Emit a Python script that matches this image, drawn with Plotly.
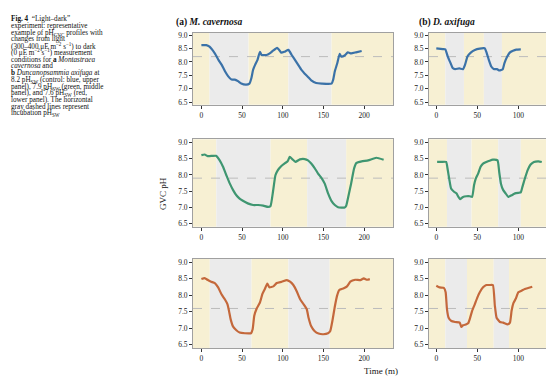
import plotly.graph_objects as go

# ---------------- data ----------------
# Panel a (M. cavernosa), control 8.2
a82_t = [0, 6, 10, 16.5, 21, 25, 29, 33, 37, 41, 45, 49, 55, 59, 61.5, 63.5, 66, 69, 72, 74, 80, 84, 88, 93, 95, 98, 102, 107,
         111, 115, 119, 123, 127, 131, 135, 141, 148, 160, 162, 164, 167, 170, 172, 176, 180, 184, 190, 197]
a82_ph = [8.63, 8.63, 8.57, 8.32, 8.08, 7.89, 7.65, 7.46, 7.34, 7.34, 7.28, 7.19, 7.15, 7.19, 7.40, 7.70, 7.89, 8.08, 8.38, 8.26,
          8.26, 8.32, 8.42, 8.53, 8.47, 8.35, 8.38, 8.45, 8.26, 8.08, 7.89, 7.70, 7.56, 7.44, 7.31, 7.21, 7.19, 7.19, 7.34, 7.65,
          7.95, 8.30, 8.20, 8.24, 8.36, 8.32, 8.36, 8.41]
a82_switch = [10, 58, 107, 160]

# Panel a, 7.9
a79_t = [0, 4, 8, 14, 18, 22.5, 26.6, 30.7, 35, 39, 43, 47, 51, 57, 63.5, 69.7, 76, 82, 85, 88, 91, 94, 98, 102, 106, 108.6,
         112, 115.6, 121, 127, 131, 135, 139, 143.4, 147.5, 151.6, 155.7, 160, 164, 168, 176, 178, 181, 184, 187.7, 190.6, 197,
         205, 215, 224]
a79_ph = [8.61, 8.63, 8.58, 8.59, 8.59, 8.45, 8.25, 7.99, 7.73, 7.53, 7.37, 7.27, 7.20, 7.12, 7.07, 7.07, 7.05, 7.01, 7.04,
          7.48, 7.99, 8.15, 8.27, 8.35, 8.42, 8.56, 8.48, 8.40, 8.48, 8.49, 8.45, 8.35, 8.22, 8.04, 7.91, 7.73, 7.43, 7.19,
          7.07, 7.00, 6.99, 7.05, 7.38, 7.73, 8.20, 8.37, 8.42, 8.45, 8.53, 8.47]
a79_switch = [18.4, 85, 130, 178]

# Panel a, 7.6
a76_t = [0, 4, 8, 12, 16.5, 20.6, 24.7, 28.8, 32, 34, 36, 39, 43, 47, 53.5, 61, 63, 65, 68, 72, 75, 78, 81, 83.5, 88.5, 92.6,
         98.8, 105, 109, 113, 117, 121.4, 125.5, 129.6, 131.7, 135, 139, 144, 150, 155.6, 158.4, 161, 163.8, 166.7, 169.5,
         175, 179, 183, 189, 195.5, 199.6, 203.7, 207]
a76_ph = [8.49, 8.52, 8.46, 8.41, 8.37, 8.24, 8.03, 7.88, 7.73, 7.52, 7.27, 7.05, 6.94, 6.87, 6.85, 6.85, 6.97, 7.38, 7.60,
          7.78, 8.04, 8.19, 8.35, 8.24, 8.27, 8.37, 8.41, 8.46, 8.41, 8.31, 8.13, 7.88, 7.73, 7.57, 7.32, 7.06, 6.92, 6.84,
          6.82, 6.85, 6.92, 7.22, 7.63, 7.98, 8.16, 8.21, 8.27, 8.41, 8.47, 8.46, 8.51, 8.47, 8.49]
a76_switch = [10.3, 61.7, 107, 157.6]

# Panel b (D. axifuga), control 8.2
b82_t = [0, 8, 11, 14, 17.5, 20, 23, 28, 32.5, 35, 38, 42, 47, 53, 59, 61, 64, 67, 70, 74, 77, 81, 83, 86.5, 89.5, 93.5,
         97.5, 103]
b82_ph = [8.51, 8.48, 8.47, 8.20, 7.95, 7.77, 7.73, 7.76, 7.73, 7.89, 8.20, 8.35, 8.45, 8.50, 8.51, 8.38, 8.08, 7.83, 7.74,
          7.73, 7.68, 7.73, 7.95, 8.20, 8.35, 8.42, 8.46, 8.47]
b82_switch = [11, 33.7, 58, 80]

# Panel b, 7.9
b79_t = [1, 6, 12, 14, 16, 18, 21.6, 24.5, 27, 29, 32.6, 36.7, 40.8, 43.7, 46, 48, 51, 54, 57, 61, 65, 69, 74.7, 76.7, 78.8,
         81.6, 84.5, 87.8, 91.8, 96, 100.8, 103, 105, 108, 111.4, 115, 119, 124.5, 128.6]
b79_ph = [8.40, 8.40, 8.40, 8.15, 7.84, 7.58, 7.48, 7.43, 7.32, 7.25, 7.32, 7.34, 7.34, 7.32, 7.68, 7.88, 8.04, 8.25, 8.35,
          8.40, 8.44, 8.47, 8.45, 8.09, 7.73, 7.53, 7.43, 7.32, 7.37, 7.43, 7.45, 7.46, 7.63, 7.89, 8.15, 8.32, 8.40, 8.42,
          8.40]
b79_switch = [13, 43, 75.5, 103]

# Panel b, 7.6
b76_t = [0, 4, 9.4, 11.4, 13, 15, 18.4, 23, 28.6, 30.6, 32.6, 36.7, 38.8, 40.8, 43.7, 47, 50, 53, 57, 61, 65, 69, 71.4, 73.5,
         77.6, 81.6, 87, 89.8, 91.8, 94, 97, 100, 104, 108, 112, 117]
b76_ph = [8.29, 8.24, 8.22, 8.09, 7.58, 7.32, 7.22, 7.19, 7.17, 7.04, 7.09, 7.12, 7.15, 7.28, 7.53, 7.73, 7.93, 8.09, 8.24,
          8.31, 8.31, 8.31, 7.68, 7.32, 7.19, 7.17, 7.12, 7.17, 7.53, 7.76, 7.90, 8.09, 8.14, 8.19, 8.22, 8.26]
b76_switch = [11, 37.4, 70, 88.6]

incubation_ph = [8.2, 7.9, 7.6]
y_ticks = [6.5, 7.0, 7.5, 8.0, 8.5, 9.0]
a_ticks = [0, 50, 100, 150, 200]
b_ticks = [0, 50, 100]

caption_lines = [
    "<b>Fig. 4</b>  “Light–dark”",
    "experiment: representative",
    "example of pH<sub>GVC</sub> profiles with",
    "changes from light",
    "(300–400 μE m<sup>−2</sup> s<sup>−1</sup>) to dark",
    "(0 μE m<sup>−2</sup> s<sup>−1</sup>) measurement",
    "conditions for <b>a</b> <i>Montastraea</i>",
    "<i>cavernosa</i> and",
    "<b>b</b> <i>Duncanopsammia axifuga</i> at",
    "8.2 pH<sub>SW</sub> (control: blue, upper",
    "panel), 7.9 pH<sub>SW</sub> (green, middle",
    "panel), and 7.6 pH<sub>SW</sub> (red,",
    "lower panel). The horizontal",
    "gray dashed lines represent",
    "incubation pH<sub>SW</sub>",
]

# ---------------- styling ----------------
W, H = 554, 379
FONT = "Liberation Serif, Times New Roman, serif"
LIGHT = "#f7f0d3"
DARK = "#ebebeb"
colors = ["#3b72a8", "#3f9671", "#c4683b"]

panels = [
    [(a82_t, a82_ph, a82_switch), (b82_t, b82_ph, b82_switch)],
    [(a79_t, a79_ph, a79_switch), (b79_t, b79_ph, b79_switch)],
    [(a76_t, a76_ph, a76_switch), (b76_t, b76_ph, b76_switch)],
]

# pixel layout
col_px = [(185, 385), (421, 540.5)]
col_range = [(-10.3, 235.5), (-8.9, 136.8)]
row_px = [(22.8, 95.7), (130.7, 219.0), (251.6, 341.7)]
y_range = (6.4, 9.1)

fig = go.Figure()
shapes = []
annotations = []

idx = 0
for r in range(3):
    for c in range(2):
        idx += 1
        t, ph, sw = panels[r][c]
        xa = "x" if idx == 1 else f"x{idx}"
        ya = "y" if idx == 1 else f"y{idx}"
        xkey = "xaxis" if idx == 1 else f"xaxis{idx}"
        ykey = "yaxis" if idx == 1 else f"yaxis{idx}"
        x0p, x1p = col_px[c]
        y0p, y1p = row_px[r]
        xr = col_range[c]
        fig.update_layout({
            xkey: dict(domain=[x0p / W, x1p / W], range=list(xr), anchor=ya,
                       tickvals=a_ticks if c == 0 else b_ticks,
                       ticks="outside", ticklen=3, tickwidth=1, tickcolor="#333",
                       showgrid=False, zeroline=False, showline=True, mirror=True,
                       linecolor="#a0a0a0", linewidth=1,
                       tickfont=dict(family=FONT, size=7.5, color="#222")),
            ykey: dict(domain=[1 - y1p / H, 1 - y0p / H], range=list(y_range), anchor=xa,
                       tickvals=y_ticks, tickformat=".1f",
                       ticks="outside", ticklen=3, tickwidth=1, tickcolor="#333",
                       showgrid=False, zeroline=False, showline=True, mirror=True,
                       linecolor="#a0a0a0", linewidth=1,
                       tickfont=dict(family=FONT, size=7.5, color="#222")),
        })
        # light / dark bands
        edges = [xr[0]] + list(sw) + [xr[1]]
        for k in range(len(edges) - 1):
            shapes.append(dict(type="rect", xref=xa, yref=f"{ya} domain",
                               x0=edges[k], x1=edges[k + 1], y0=0, y1=1,
                               fillcolor=LIGHT if k % 2 == 0 else DARK,
                               line=dict(width=0), layer="below"))
        # incubation pH dashed line
        shapes.append(dict(type="line", xref=f"{xa} domain", yref=ya, x0=0, x1=1,
                           y0=incubation_ph[r], y1=incubation_ph[r],
                           line=dict(color="#bcbcbc", width=1, dash="dash"), layer="below"))
        fig.add_trace(go.Scatter(x=t, y=ph, mode="lines", xaxis=xa, yaxis=ya,
                                 line=dict(color=colors[r], width=2.2, shape="spline", smoothing=0.4),
                                 showlegend=False, hoverinfo="skip"))

# titles
annotations.append(dict(text="<b>(a) <i>M. cavernosa</i></b>", x=166 / W, y=1 - 13 / H,
                        xref="paper", yref="paper", xanchor="left", yanchor="middle",
                        showarrow=False, font=dict(family=FONT, size=9.5, color="#111")))
annotations.append(dict(text="<b>(b) <i>D. axifuga</i></b>", x=409 / W, y=1 - 13 / H,
                        xref="paper", yref="paper", xanchor="left", yanchor="middle",
                        showarrow=False, font=dict(family=FONT, size=9.5, color="#111")))
annotations.append(dict(text="GVC pH", x=155 / W, y=1 - 186 / H, textangle=-90,
                        xref="paper", yref="paper", xanchor="center", yanchor="middle",
                        showarrow=False, font=dict(family=FONT, size=9, color="#111")))
annotations.append(dict(text="Time (m)", x=373 / W, y=1 - 365 / H,
                        xref="paper", yref="paper", xanchor="center", yanchor="middle",
                        showarrow=False, font=dict(family=FONT, size=9, color="#111")))
for i, line in enumerate(caption_lines):
    ypx = 9.3 + i * 6.8
    if "<sub>" in line:
        ypx += 0.6
    annotations.append(dict(text=line, x=2 / W, y=1 - ypx / H,
                            xref="paper", yref="paper", xanchor="left", yanchor="middle",
                            showarrow=False, borderpad=0,
                            font=dict(family=FONT, size=7.2, color="#111")))

fig.update_layout(width=W, height=H, margin=dict(l=0, r=0, t=0, b=0),
                  paper_bgcolor="white", plot_bgcolor="white",
                  shapes=shapes, annotations=annotations, showlegend=False)

fig.write_html("out.html")
